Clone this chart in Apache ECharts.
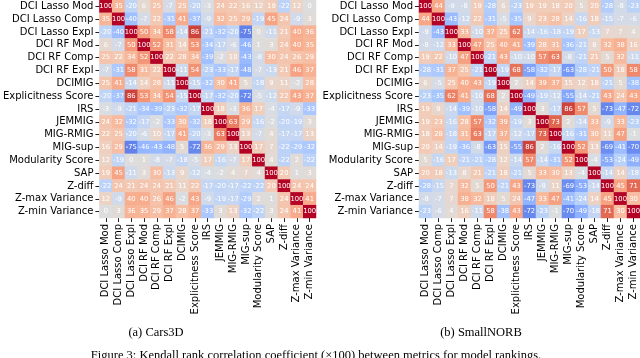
<!DOCTYPE html>
<html>
<head>
<meta charset="utf-8">
<script src="https://cdn.jsdelivr.net/npm/echarts@6/dist/echarts.min.js"></script>
<style>
  html, body { margin: 0; padding: 0; background: #fff; }
  #chart { width: 640px; height: 358px; }
</style>
</head>
<body>
<div id="chart"></div>
<script>
var metrics = ['DCI Lasso Mod', 'DCI Lasso Comp', 'DCI Lasso Expl', 'DCI RF Mod', 'DCI RF Comp',
  'DCI RF Expl', 'DCIMIG', 'Explicitness Score', 'IRS', 'JEMMIG', 'MIG-RMIG', 'MIG-sup',
  'Modularity Score', 'SAP', 'Z-diff', 'Z-max Variance', 'Z-min Variance'];

// Kendall tau x100, Cars3D
var cars3d = [
  [100, 35, -20, 6, 25, -7, 25, -20, -3, 24, 22, 16, 12, 19, -22, 12, 0],
  [35, 100, -40, -7, 22, -31, 41, -37, -9, 32, 25, 29, -19, 45, 24, -9, 3],
  [-20, -40, 100, 50, 34, 58, -14, 86, -21, -32, -20, -75, 0, -11, 21, 40, 36],
  [6, -7, 50, 100, 52, 31, 14, 53, -34, -17, -6, -46, 1, 3, 24, 40, 35],
  [25, 22, 34, 52, 100, 22, 28, 34, -39, -2, 10, -43, -8, 30, 24, 26, 29],
  [-7, -31, 58, 31, 22, 100, -11, 54, -23, -33, -17, -48, -7, -13, 21, 46, 37],
  [25, 41, -14, 14, 28, -11, 100, -15, -32, 30, 41, 5, -18, 9, 11, -2, 28],
  [-20, -37, 86, 53, 34, 54, -15, 100, -17, -32, -20, -72, -5, -12, 22, 43, 37],
  [-3, -9, -21, -34, -39, -23, -32, -17, 100, 18, -3, 36, 17, -4, -17, -9, -33],
  [24, 32, -32, -17, -2, -33, 30, -32, 18, 100, 63, 29, -16, -2, -20, -19, 3],
  [22, 25, -20, -6, 10, -17, 41, -20, -3, 63, 100, 13, -7, 4, -17, -17, 13],
  [16, 29, -75, -46, -43, -48, 5, -72, 36, 29, 13, 100, 17, 7, -22, -29, -32],
  [12, -19, 0, 1, -8, -7, -18, -5, 17, -16, -7, 17, 100, 4, -22, 2, -22],
  [19, 45, -11, 3, 30, -13, 9, -12, -4, -2, 4, 7, 4, 100, 20, 1, 3],
  [-22, 24, 21, 24, 24, 21, 11, 22, -17, -20, -17, -22, -22, 20, 100, 24, 24],
  [12, -9, 40, 40, 26, 46, -2, 43, -9, -19, -17, -29, 2, 1, 24, 100, 41],
  [0, 3, 36, 35, 29, 37, 28, 37, -33, 3, 13, -32, -22, 3, 24, 41, 100]
];

// Kendall tau x100, SmallNORB
var smallnorb = [
  [100, 44, -9, -8, 19, -28, 6, -23, 19, 19, 18, 20, 5, 20, -28, -8, -23],
  [44, 100, -43, -12, 22, -31, -5, -35, 9, 23, 28, 14, -16, 18, -15, -7, -6],
  [-9, -43, 100, 33, -10, 37, 25, 62, -14, -16, -18, -19, 17, -13, 7, 7, 4],
  [-8, -12, 33, 100, 47, 25, 40, 41, -39, 28, 31, -36, -21, 8, 32, 38, 16],
  [19, 22, -10, 47, 100, -21, 43, -10, -10, 57, 63, -8, -21, 21, 5, 32, -11],
  [-28, -31, 37, 25, -21, 100, -19, 68, -58, -32, -17, -63, -28, -21, 50, 18, 58],
  [6, -5, 25, 40, 43, -19, 100, 2, 14, 39, 37, 15, 12, 18, -21, 5, -38],
  [-23, -35, 62, 41, -10, 68, 2, 100, -49, -19, -12, -55, -14, -21, 43, 24, 43],
  [19, 9, -14, -39, -10, -58, 14, -49, 100, 3, -17, 86, 57, 5, -73, -47, -72],
  [19, 23, -16, 28, 57, -32, 39, -19, 3, 100, 73, 2, -14, 33, -9, 33, -23],
  [18, 28, -18, 31, 63, -17, 37, -12, -17, 73, 100, -16, -31, 30, 11, 47, -1],
  [20, 14, -19, -36, -8, -63, 15, -55, 86, 2, -16, 100, 52, 13, -69, -41, -70],
  [5, -16, 17, -21, -21, -28, 12, -14, 57, -14, -31, 52, 100, -4, -53, -24, -49],
  [20, 18, -13, 8, 21, -21, 18, -21, 5, 33, 30, 13, -4, 100, -14, 14, -18],
  [-28, -15, 7, 32, 5, 50, -21, 43, -73, -9, 11, -69, -53, -14, 100, 45, 71],
  [-8, -7, 7, 38, 32, 18, 5, 24, -47, 33, 47, -41, -24, 14, 45, 100, 30],
  [-23, -6, 4, 16, -11, 58, -38, 43, -72, -23, -1, -70, -49, -18, 71, 30, 100]
];

var subTitles = ['(a) Cars3D', '(b) SmallNORB'];
var caption = 'Figure 3: Kendall rank correlation coefficient (\u00d7100) between metrics for model rankings.';

// matplotlib coolwarm
var coolwarm = ['#3b4cc0', '#445acc', '#4d68d7', '#5775e1', '#6282ea', '#6c8ef1', '#779af7', '#82a5fb',
  '#8db0fe', '#98b9ff', '#a3c2ff', '#aec9fd', '#b8d0f9', '#c2d5f4', '#ccd9ee', '#d5dbe6', '#dddddd',
  '#e5d8d1', '#ecd3c5', '#f1ccb8', '#f5c4ac', '#f7bb9f', '#f7b193', '#f7a686', '#f49a7b', '#f18d6f',
  '#ec7f63', '#e57059', '#de604d', '#d55044', '#cb3e38', '#c0282f', '#b40426'];

function toCells(matrix) {
  var out = [];
  matrix.forEach(function(row, i) {
    row.forEach(function(v, j) {
      out.push([j, i, v]);
    });
  });
  return out;
}

var chart = echarts.init(document.getElementById('chart'));
var fontSans = 'DejaVu Sans';
var fontSerif = 'Liberation Serif';

var grids = [
  { left: 94, top: 0, width: 222, height: 218 },
  { left: 419, top: 0, width: 222, height: 218 }
];

var xAxes = [], yAxes = [], series = [];
[cars3d, smallnorb].forEach(function(m, k) {
  xAxes.push({
    type: 'category', gridIndex: k, data: metrics,
    axisLine: { show: false },
    axisTick: { show: true, alignWithLabel: true, length: 4, lineStyle: { color: '#222' } },
    axisLabel: { rotate: 90, interval: 0, margin: 6, fontSize: 10, color: '#000', fontFamily: fontSans },
    splitLine: { show: false }
  });
  yAxes.push({
    type: 'category', gridIndex: k, data: metrics, inverse: true,
    axisLine: { show: false },
    axisTick: { show: true, alignWithLabel: true, length: 4, lineStyle: { color: '#222' } },
    axisLabel: { interval: 0, margin: 6, fontSize: 10, color: '#000', fontFamily: fontSans },
    splitLine: { show: false }
  });
  series.push({
    type: 'heatmap',
    xAxisIndex: k, yAxisIndex: k,
    data: toCells(m),
    label: {
      show: true, fontSize: 6.8, color: '#ffffff', fontFamily: fontSans,
      formatter: function(p) { return p.value[2]; }
    },
    emphasis: { disabled: true },
    itemStyle: { borderWidth: 0 }
  });
});

chart.setOption({
  animation: false,
  grid: grids,
  xAxis: xAxes,
  yAxis: yAxes,
  visualMap: {
    type: 'continuous', show: false, min: -100, max: 100,
    seriesIndex: [0, 1], dimension: 2,
    inRange: { color: coolwarm }
  },
  graphic: [
    {
      type: 'text', x: 156, y: 333,
      style: { text: subTitles[0], font: '12.5px ' + fontSerif, fill: '#000', align: 'center', verticalAlign: 'middle' }
    },
    {
      type: 'text', x: 481, y: 333,
      style: { text: subTitles[1], font: '12.5px ' + fontSerif, fill: '#000', align: 'center', verticalAlign: 'middle' }
    },
    {
      type: 'text', x: 316, y: 349,
      style: { text: caption, font: '12.5px ' + fontSerif, fill: '#000', align: 'center', verticalAlign: 'top' }
    }
  ],
  series: series
});
</script>
</body>
</html>
